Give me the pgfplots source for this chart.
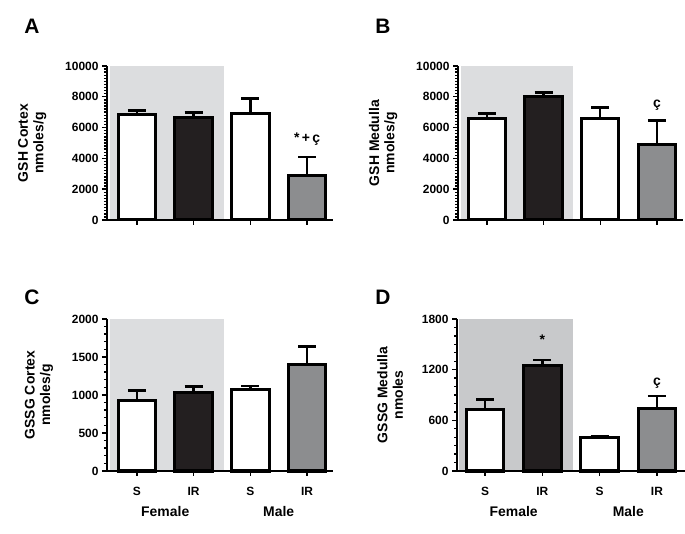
\documentclass[border=0pt]{standalone}
\usepackage{pgfplots}
\pgfplotsset{compat=1.18}
\usepackage{fontspec}
\setmainfont{Liberation Sans}
\definecolor{bgA}{HTML}{DCDDDF}
\definecolor{bgD}{HTML}{C8C9CB}
\definecolor{barblk}{HTML}{231F20}
\definecolor{bargry}{HTML}{8C8D8F}
\pgfplotsset{
 panel/.style={
  scale only axis, anchor=south west,
  axis x line=bottom, axis y line=left,
  axis line style={-, line width=2bp, black},
  axis on top,
  tick align=outside,
  major tick length=5bp, minor tick length=3bp,
  every tick/.style={black, line width=1.4bp},
  xtick={1,2,3,4},
  ymin=0,
  scaled y ticks=false,
  tick label style={font=\bfseries\fontsize{12}{12}\selectfont},
  xticklabel style={yshift=-8bp},
  /pgf/number format/assume math mode=true,
  /pgf/number format/1000 sep={},
  ylabel style={align=center, font=\bfseries\fontsize{14}{15.5}\selectfont, yshift=12bp},
  clip=false,
 },
 bbar/.style={ybar, bar width=0.66, bar shift=0pt, draw=black, line width=3bp},
 ebar/.style={error bars/.cd, y dir=plus, y explicit,
   error bar style={line width=2.4bp, black},
   error mark options={line width=2.4bp, mark size=9bp, black, rotate=90}},
}
\newcommand{\ann}{\bfseries\fontsize{14}{14}\selectfont}
\newcommand{\grp}{\bfseries\fontsize{14}{14}\selectfont}
\newcommand{\letter}{\bfseries\fontsize{21}{21}\selectfont}
\begin{document}
\begin{tikzpicture}
\useasboundingbox (0,0) rectangle (685bp,534bp);
\node[font=\letter] at (32bp,508bp) {A};
\node[font=\letter] at (383bp,508bp) {B};
\node[font=\letter] at (32bp,237bp) {C};
\node[font=\letter] at (383bp,237bp) {D};
% Panel A
\begin{axis}[panel, at={(107bp,314bp)}, width=226bp, height=154bp,
  xmin=0.474, xmax=4.456, ymax=10000, ytick={0,2000,...,10000}, minor y tick num=9,
  xticklabels={}, ylabel={GSH Cortex\\nmoles/g}]
\addplot[fill=bgA, draw=none, forget plot] coordinates {(0.53,10000) (2.53,10000)} \closedcycle;
\addplot[bbar, fill=white, ebar] coordinates {(1,6861) +- (0,240)};
\addplot[bbar, fill=barblk, ebar] coordinates {(2,6645) +- (0,325)};
\addplot[bbar, fill=white, ebar] coordinates {(3,6905) +- (0,995)};
\addplot[bbar, fill=bargry, ebar] coordinates {(4,2879) +- (0,1210)};
\node[font=\ann] at (axis cs:4,5240) {*\,+\,ç};
\end{axis}
% Panel B
\begin{axis}[panel, at={(458bp,314bp)}, width=225bp, height=154bp,
  xmin=0.49, xmax=4.46, ymax=10000, ytick={0,2000,...,10000}, minor y tick num=9,
  xticklabels={}, ylabel={GSH Medulla\\nmoles/g}]
\addplot[fill=bgA, draw=none, forget plot] coordinates {(0.54,10000) (2.52,10000)} \closedcycle;
\addplot[bbar, fill=white, ebar] coordinates {(1,6600) +- (0,326)};
\addplot[bbar, fill=barblk, ebar] coordinates {(2,8030) +- (0,240)};
\addplot[bbar, fill=white, ebar] coordinates {(3,6623) +- (0,693)};
\addplot[bbar, fill=bargry, ebar] coordinates {(4,4870) +- (0,1580)};
\node[font=\ann] at (axis cs:4,7470) {ç};
\end{axis}
% Panel C
\begin{axis}[panel, at={(107bp,63bp)}, width=226bp, height=152bp,
  xmin=0.474, xmax=4.456, ymax=2000, ytick={0,500,...,2000}, minor y tick num=4,
  xticklabels={S,IR,S,IR}, ylabel={GSSG Cortex\\nmoles/g}]
\addplot[fill=bgA, draw=none, forget plot] coordinates {(0.53,2000) (2.53,2000)} \closedcycle;
\addplot[bbar, fill=white, ebar] coordinates {(1,934) +- (0,123)};
\addplot[bbar, fill=barblk, ebar] coordinates {(2,1039) +- (0,71)};
\addplot[bbar, fill=white, ebar] coordinates {(3,1075) +- (0,43)};
\addplot[bbar, fill=bargry, ebar] coordinates {(4,1399) +- (0,237)};
\node[font=\grp, yshift=-41bp] at (axis cs:1.5,0) {Female};
\node[font=\grp, yshift=-41bp] at (axis cs:3.5,0) {Male};
\end{axis}
% Panel D
\begin{axis}[panel, at={(457bp,63bp)}, width=228bp, height=152bp,
  xmin=0.51, xmax=4.49, ymax=1800, ytick={0,600,1200,1800}, minor y tick num=5,
  xticklabels={S,IR,S,IR}, ylabel={GSSG Medulla\\nmoles}]
\addplot[fill=bgD, draw=none, forget plot] coordinates {(0.54,1800) (2.53,1800)} \closedcycle;
\addplot[bbar, fill=white, ebar] coordinates {(1,733) +- (0,114)};
\addplot[bbar, fill=barblk, ebar] coordinates {(2,1252) +- (0,59)};
\addplot[bbar, fill=white, ebar] coordinates {(3,398) +- (0,15)};
\addplot[bbar, fill=bargry, ebar] coordinates {(4,744) +- (0,142)};
\node[font=\ann] at (axis cs:2,1558) {*};
\node[font=\ann] at (axis cs:4,1036) {ç};
\node[font=\grp, yshift=-41bp] at (axis cs:1.5,0) {Female};
\node[font=\grp, yshift=-41bp] at (axis cs:3.5,0) {Male};
\end{axis}
\end{tikzpicture}
\end{document}
